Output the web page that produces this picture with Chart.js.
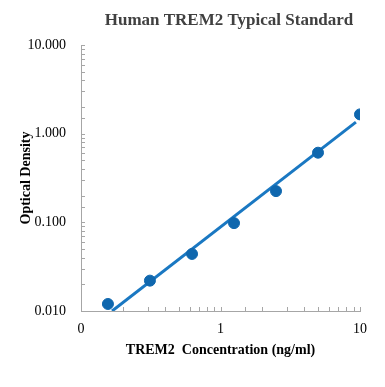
<!DOCTYPE html>
<html lang="en">
<head>
<meta charset="utf-8">
<title>Human TREM2 Typical Standard</title>
<script src="https://cdn.jsdelivr.net/npm/chart.js"></script>
<style>
  html, body { margin: 0; padding: 0; background: #fff; }
  #wrap { width: 385px; height: 387px; }
</style>
</head>
<body>
<div id="wrap"><canvas id="myChart"></canvas></div>
<script>
// standard curve points
const concentration = [0.156, 0.312, 0.625, 1.25, 2.5, 5, 10];
const opticalDensity = [0.012, 0.022, 0.044, 0.098, 0.225, 0.61, 1.65];
// fitted trend line end points
const fitX = [0.167, 9.35];
const fitY = [0.01, 1.35];
// labelled ticks
const xTickLabels = { 0.1: '0', 1: '1', 10: '10' };
const yTickLabels = { 0.01: '0.010', 0.1: '0.100', 1: '1.000', 10: '10.000' };

const serif = "'Liberation Serif', 'Times New Roman', serif";

function isDecade(v) {
    const l = Math.log10(v);
    return Math.abs(l - Math.round(l)) < 1e-6;
}
function labelFor(map, v) {
    if (!isDecade(v)) return '';
    const k = Math.pow(10, Math.round(Math.log10(v)));
    for (const key in map) if (Math.abs(key - k) < 1e-9) return map[key];
    return '';
}

// short tick marks pointing into the plot, like the original
const innerTicks = {
    id: 'innerTicks',
    afterDraw(chart) {
        const ctx = chart.ctx;
        const xs = chart.scales.x, ys = chart.scales.y;
        ctx.save();
        ctx.lineWidth = 1;
        ctx.strokeStyle = '#a6a6a6';
        for (const t of ys.ticks) {
            const y = Math.round(ys.getPixelForValue(t.value)) + 0.5;
            ctx.beginPath();
            ctx.moveTo(xs.left, y);
            ctx.lineTo(xs.left + 4, y);
            ctx.stroke();
        }
        for (const t of xs.ticks) {
            const x = Math.round(xs.getPixelForValue(t.value)) + 0.5;
            ctx.beginPath();
            ctx.moveTo(x, ys.bottom);
            ctx.lineTo(x, ys.bottom - 4);
            ctx.stroke();
        }
        ctx.restore();
    }
};

const chartTitle = {
    id: 'chartTitle',
    afterDraw(chart) {
        const ctx = chart.ctx;
        ctx.save();
        ctx.font = "bold 17px " + serif;
        ctx.fillStyle = '#404040';
        ctx.textAlign = 'center';
        ctx.textBaseline = 'middle';
        ctx.fillText('Human TREM2 Typical Standard', 229, 21);
        ctx.restore();
    }
};

new Chart(document.getElementById('myChart'), {
    type: 'scatter',
    data: {
        datasets: [{
            type: 'line',
            data: fitX.map((x, i) => ({ x: x, y: fitY[i] })),
            borderColor: '#1a78c2',
            borderWidth: 3,
            pointRadius: 0,
            fill: false,
            order: 2
        }, {
            data: concentration.map((x, i) => ({ x: x, y: opticalDensity[i] })),
            backgroundColor: '#0f67ae',
            borderColor: '#0f67ae',
            pointRadius: 5.5,
            order: 1
        }]
    },
    plugins: [innerTicks, chartTitle],
    options: {
        responsive: true,
        maintainAspectRatio: false,
        animation: false,
        layout: { padding: { top: 45, right: 25, bottom: 0, left: 0 } },
        plugins: {
            legend: { display: false },
            tooltip: { enabled: false },
            title: { display: false }
        },
        scales: {
            x: {
                type: 'logarithmic',
                min: 0.1,
                max: 10,
                afterFit(s) { s.height = 76; },
                grid: { display: false, drawTicks: false },
                border: { display: true, color: '#a6a6a6', width: 1 },
                ticks: {
                    autoSkip: false,
                    maxRotation: 0,
                    padding: 10,
                    color: '#000',
                    font: { family: serif, size: 14 },
                    callback: v => labelFor(xTickLabels, v)
                },
                title: {
                    display: true,
                    text: 'TREM2  Concentration (ng/ml)',
                    color: '#000',
                    font: { family: serif, size: 14, weight: 'bold' },
                    padding: { top: 0, bottom: 28 }
                }
            },
            y: {
                type: 'logarithmic',
                min: 0.01,
                max: 10,
                afterFit(s) { s.width = 81; },
                grid: { display: false, drawTicks: false },
                border: { display: true, color: '#a6a6a6', width: 1 },
                ticks: {
                    autoSkip: false,
                    padding: 15,
                    color: '#000',
                    font: { family: serif, size: 14 },
                    callback: v => labelFor(yTickLabels, v)
                },
                title: {
                    display: true,
                    text: 'Optical Density',
                    color: '#000',
                    font: { family: serif, size: 14, weight: 'bold' },
                    padding: { top: 18, bottom: 0 }
                }
            }
        }
    }
});
</script>
</body>
</html>
